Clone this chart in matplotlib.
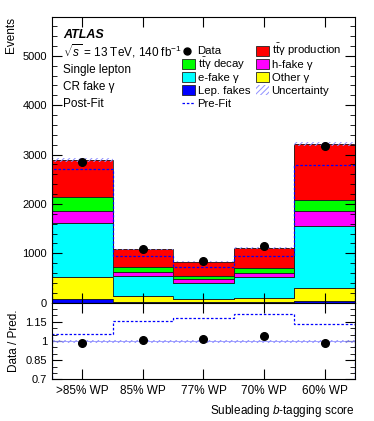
import numpy as np
import matplotlib
matplotlib.use("Agg")
import matplotlib.pyplot as plt
from matplotlib.patches import Rectangle
from matplotlib.ticker import MultipleLocator, FixedLocator

plt.rcParams['font.family'] = ['Liberation Sans', 'DejaVu Sans']
plt.rcParams['mathtext.fontset'] = 'custom'
plt.rcParams['mathtext.rm'] = 'Liberation Sans'
plt.rcParams['mathtext.it'] = 'Liberation Sans:italic'
plt.rcParams['mathtext.bf'] = 'Liberation Sans:bold'
plt.rcParams['font.size'] = 8
plt.rcParams['hatch.linewidth'] = 0.7

# Bins (subleading b-tagging score)
categories = [">85% WP", "85% WP", "77% WP", "70% WP", "60% WP"]

# Post-fit stack components (bottom to top)
lep_fakes = [70, 8, 5, 5, 35]
other_gamma = [457, 122, 76, 84, 257]
e_fake = [1083, 405, 312, 426, 1258]
h_fake = [244, 88, 82, 94, 304]
ttg_decay = [296, 95, 67, 89, 229]
ttg_prod = [744, 365, 290, 412, 1130]

prefit_total = [2706, 947, 718, 947, 2793]
data = [2850, 1092, 846, 1150, 3164]
rel_unc = [0.012, 0.012, 0.012, 0.012, 0.012]

TTG = r"t$\bar{\rm t}$γ"
components = [
    (lep_fakes, "#0000ff", "Lep. fakes"),
    (other_gamma, "#ffff00", "Other γ"),
    (e_fake, "#00ffff", "e-fake γ"),
    (h_fake, "#ff00ff", "h-fake γ"),
    (ttg_decay, "#00ff00", TTG + " decay"),
    (ttg_prod, "#ff0000", TTG + " production"),
]
colors = {lab: col for _, col, lab in components}
UNC_COL = "#9090ff"
PRE_COL = "#0000ff"
PRE_LS = (0, (2, 1.5))

nb = len(categories)
edges = np.arange(nb + 1)
centers = edges[:-1] + 0.5

W, H = 374, 421
fig = plt.figure(figsize=(W / 100, H / 100), dpi=100)
ax = fig.add_axes([0.139, 0.281, 0.810, 0.679])
rax = fig.add_axes([0.139, 0.0986, 0.810, 0.1824], sharex=ax)

bottom = np.zeros(nb)
for vals, col, lab in components:
    vals = np.array(vals, dtype=float)
    ax.stairs(bottom + vals, edges, baseline=bottom, fill=True, color=col)
    ax.stairs(bottom + vals, edges, baseline=bottom, fill=False, color="#222222", lw=0.6)
    bottom = bottom + vals
total = bottom

# uncertainty band
unc = total * np.array(rel_unc)
ax.stairs(total + unc, edges, baseline=total - unc, fill=True, facecolor="none",
          edgecolor=UNC_COL, hatch="//////", lw=0)
ax.stairs(prefit_total, edges, color=PRE_COL, ls=PRE_LS, lw=0.9)
ax.plot(centers, data, "o", color="black", ms=5.5, zorder=5)

ax.set_xlim(0, nb)
ax.set_ylim(0, 5790)
ax.yaxis.set_major_locator(MultipleLocator(1000))
ax.yaxis.set_minor_locator(MultipleLocator(200))
ax.set_ylabel("Events", loc="top", fontsize=8.5)
ax.tick_params(axis="both", which="both", direction="in", top=True, right=True)
ax.tick_params(which="major", length=7)
ax.tick_params(which="minor", length=3.5)
ax.tick_params(axis="x", labelbottom=False)
ax.xaxis.set_major_locator(FixedLocator(centers))

# labels, placed in figure pixels (y from top)
def fx(x):
    return x / W

def fy(y):
    return 1 - y / H

fig.text(fx(63), fy(38), "ATLAS", fontsize=9, fontweight="bold",
         fontstyle="italic", va="baseline")
info = [r"$\sqrt{s}$ = 13 TeV, 140 fb$^{\mathregular{-1}}$", "Single lepton",
        "CR fake γ", "Post-Fit"]
for i, t in enumerate(info):
    fig.text(fx(63), fy(56 + i * 17), t, va="baseline", fontsize=8.5)

# legend drawn by hand so the rows stay evenly spaced
rows = [50.5, 63.5, 76.7, 89.7, 102.7]
col1 = [("data", "Data"), ("patch", TTG + " decay"), ("patch", "e-fake γ"),
        ("patch", "Lep. fakes"), ("pre", "Pre-Fit")]
col2 = [("patch", TTG + " production"), ("patch", "h-fake γ"),
        ("patch", "Other γ"), ("unc", "Uncertainty")]
for xh, entries in ((182, col1), (256, col2)):
    for (kind, lab), yc in zip(entries, rows):
        if kind == "patch":
            fig.patches.append(Rectangle((fx(xh), fy(yc + 5)), 13 / W, 10 / H,
                                         transform=fig.transFigure,
                                         facecolor=colors[lab], edgecolor="#222222",
                                         lw=0.6))
        elif kind == "unc":
            fig.patches.append(Rectangle((fx(xh), fy(yc + 5)), 13 / W, 10 / H,
                                         transform=fig.transFigure,
                                         facecolor="none", edgecolor=UNC_COL,
                                         hatch="//////", lw=0))
        elif kind == "data":
            fig.lines.append(plt.Line2D([fx(xh + 5)], [fy(yc)], marker="o",
                                        color="black", ms=5,
                                        transform=fig.transFigure))
        else:
            fig.lines.append(plt.Line2D([fx(xh), fx(xh + 13)], [fy(yc), fy(yc)],
                                        color=PRE_COL, ls=PRE_LS, lw=0.9,
                                        transform=fig.transFigure))
        fig.text(fx(xh + 15.5), fy(yc + 4), lab, va="baseline", fontsize=8.2)

# ratio panel
ratio = np.array(data) / total
pre_ratio = np.array(data) / np.array(prefit_total)
rax.stairs(1 + np.array(rel_unc), edges, baseline=1 - np.array(rel_unc), fill=True,
           facecolor="none", edgecolor=UNC_COL, hatch="//////", lw=0)
rax.axhline(1, color=UNC_COL, lw=0.6)
rax.stairs(pre_ratio, edges, color=PRE_COL, ls=PRE_LS, lw=0.9)
rax.plot(centers, ratio, "o", color="black", ms=5.5, zorder=5)
rax.set_ylim(0.7, 1.3)
rax.set_yticks([0.7, 0.85, 1.0, 1.15])
rax.set_yticklabels(["0.7", "0.85", "1", "1.15"])
rax.yaxis.set_minor_locator(MultipleLocator(0.05))
rax.set_xticks(centers)
rax.set_xticklabels(categories, fontsize=8.5)
rax.tick_params(axis="both", which="both", direction="in", top=True, right=True)
rax.tick_params(which="major", length=7)
rax.tick_params(which="minor", length=3.5)
rax.tick_params(axis="x", pad=4)
rax.set_ylabel("Data / Pred.", fontsize=8.5)
rax.set_xlabel("Subleading $b$-tagging score", loc="right", fontsize=8.5)

for a in (ax, rax):
    for s in a.spines.values():
        s.set_linewidth(0.8)

fig.align_ylabels([ax, rax])
fig.savefig("out.png", dpi=100)
